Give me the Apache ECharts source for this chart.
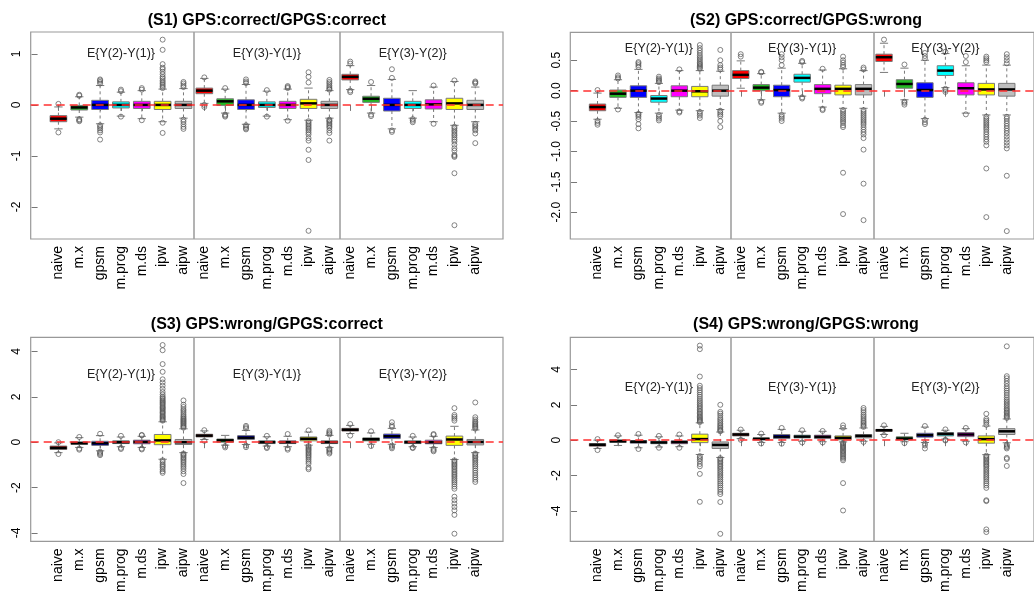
<!DOCTYPE html>
<html><head><meta charset="utf-8">
<script src="https://cdn.jsdelivr.net/npm/echarts@6/dist/echarts.min.js"></script>
<style>html,body{margin:0;padding:0;background:#fff}#c{width:1034px;height:595px}</style>
</head><body><div id="c"></div>
<script>
// ---------- data ----------
const methods = ['naive','m.x','gpsm','m.prog','m.ds','ipw','aipw'];
const groupLabels = ['E{Y(2)-Y(1)}','E{Y(3)-Y(1)}','E{Y(3)-Y(2)}'];
const panelTitles = ['(S1) GPS:correct/GPGS:correct','(S2) GPS:correct/GPGS:wrong','(S3) GPS:wrong/GPGS:correct','(S4) GPS:wrong/GPGS:wrong'];
const boxColors = ['#ff0000','#22bb22','#0000ff','#00ffff','#ff00ff','#ffff00','#bebebe'];

// [lower whisker, Q1, median, Q3, upper whisker]
const s1Stats = [
 [-0.47,-0.33,-0.27,-0.21,-0.04],[-0.24,-0.10,-0.05,-0.01,0.16],[-0.37,-0.09,0.00,0.09,0.38],[-0.22,-0.06,0.00,0.06,0.25],[-0.27,-0.07,0.00,0.07,0.28],[-0.33,-0.09,0.00,0.07,0.31],[-0.26,-0.07,0.00,0.07,0.32],
 [0.03,0.22,0.28,0.33,0.52],[-0.16,-0.01,0.07,0.12,0.31],[-0.38,-0.09,0.00,0.10,0.40],[-0.22,-0.05,0.00,0.06,0.27],[-0.29,-0.07,0.00,0.07,0.31],[-0.30,-0.07,0.03,0.11,0.33],[-0.26,-0.07,0.00,0.07,0.28],
 [0.30,0.49,0.55,0.60,0.77],[-0.16,0.05,0.12,0.17,0.38],[-0.47,-0.12,0.00,0.13,0.50],[-0.26,-0.07,0.00,0.07,0.28],[-0.33,-0.08,0.01,0.10,0.35],[-0.40,-0.09,0.03,0.13,0.46],[-0.33,-0.09,0.00,0.09,0.35]
];
const s1Outliers = [
 [0.02,-0.54],[0.18,0.20,-0.28,-0.30,-0.32],[0.42,0.45,0.48,0.50,-0.40,-0.43,-0.46,-0.50,-0.54,-0.68],[0.27,0.30,-0.23],[0.30,0.33,-0.30],
 [0.33,0.36,0.39,0.42,0.45,0.48,0.52,0.55,0.60,0.65,0.70,0.73,0.80,1.08,1.28,-0.35,-0.55],[0.35,0.38,0.42,0.45,-0.29,-0.33,-0.38,-0.43,-0.47],
 [0.54,0.00,-0.04],[0.33,-0.19,-0.21,-0.23],[0.43,0.46,0.50,-0.40,-0.43,-0.46,-0.48],[0.29,-0.23],[0.33,0.35,0.37,-0.31],
 [0.44,0.55,0.64,-0.32,-0.35,-0.38,-0.41,-0.44,-0.47,-0.50,-0.54,-0.58,-0.65,-0.70,-0.88,-1.08,-2.47],
 [0.30,0.32,0.35,0.38,0.42,0.45,0.49,-0.29,-0.31,-0.33,-0.36,-0.39,-0.42,-0.45,-0.50,-0.55,-0.70],
 [0.81,0.85,0.28,0.25],[0.45,-0.19,-0.22],[0.53,0.70,-0.50,-0.53],[-0.28,-0.31,-0.34],[0.38,-0.37],
 [0.48,-0.43,-0.46,-0.50,-0.53,-0.57,-0.60,-0.64,-0.68,-0.72,-0.78,-0.85,-0.90,-0.98,-1.00,-1.02,-1.34,-2.36],
 [0.42,0.44,0.46,-0.37,-0.40,-0.43,-0.47,-0.50,-0.56,-0.75]
];

const s2Stats = [
 [-0.47,-0.33,-0.27,-0.22,-0.04],[-0.29,-0.11,-0.05,0.01,0.18],[-0.36,-0.11,0.00,0.08,0.35],[-0.37,-0.19,-0.13,-0.08,0.12],[-0.32,-0.10,0.00,0.08,0.33],[-0.33,-0.10,-0.01,0.07,0.33],[-0.31,-0.09,0.00,0.09,0.32],
 [0.04,0.20,0.26,0.33,0.49],[-0.15,0.00,0.05,0.10,0.28],[-0.37,-0.10,0.01,0.09,0.37],[-0.09,0.14,0.21,0.27,0.45],[-0.27,-0.05,0.03,0.10,0.34],[-0.29,-0.07,0.03,0.09,0.36],[-0.29,-0.07,0.03,0.10,0.33],
 [0.30,0.48,0.55,0.60,0.78],[-0.15,0.04,0.11,0.18,0.37],[-0.46,-0.11,0.01,0.13,0.50],[0.05,0.25,0.33,0.41,0.61],[-0.37,-0.07,0.04,0.13,0.41],[-0.40,-0.07,0.02,0.12,0.42],[-0.40,-0.09,0.02,0.12,0.42]
];
const s2Outliers = [
 [0.01,-0.50,-0.53,-0.56],[0.20,0.22,0.25,-0.31],[0.39,0.42,0.45,0.47,-0.38,-0.40,-0.43,-0.47,-0.55,-0.62],[0.14,0.16,0.18,0.20,0.23,-0.40,-0.43,-0.46,-0.49],[0.35,-0.34,-0.36],
 [0.36,0.38,0.40,0.42,0.44,0.46,0.49,0.52,0.55,0.58,0.62,0.66,0.70,0.75,-0.35,-0.38,-0.41,-0.45],[0.35,0.38,0.42,0.50,0.67,-0.33,-0.36,-0.39,-0.42,-0.50,-0.60],
 [0.56,0.60],[0.30,0.31,-0.18,-0.20],[0.42,0.50,0.55,0.60,-0.40,-0.43,-0.46,-0.50],[0.47,0.49,-0.11,-0.13],[0.36,-0.30,-0.32],
 [0.39,0.42,0.46,0.50,0.56,-0.32,-0.35,-0.38,-0.41,-0.44,-0.47,-0.50,-0.53,-0.57,-0.60,-1.35,-2.03],
 [0.35,0.38,-0.32,-0.35,-0.38,-0.41,-0.44,-0.47,-0.50,-0.53,-0.56,-0.60,-0.64,-0.68,-0.72,-0.78,-0.97,-1.53,-2.13],
 [0.84],[0.43,-0.18,-0.20,-0.23],[0.53,0.57,0.62,-0.48,-0.52,-0.55],[0.64,0.03,0.01,-0.02],[0.47,0.57,-0.39],
 [0.47,0.50,0.53,0.56,-0.43,-0.46,-0.49,-0.52,-0.55,-0.58,-0.61,-0.64,-0.68,-0.72,-0.76,-0.80,-0.84,-0.90,-1.28,-2.08],
 [0.45,0.50,0.55,0.60,-0.43,-0.46,-0.50,-0.54,-0.58,-0.62,-0.66,-0.70,-0.75,-0.80,-0.85,-0.90,-0.95,-1.40,-2.31]
];

const s3Stats = [
 [-0.46,-0.32,-0.25,-0.17,-0.03],[-0.23,-0.10,-0.04,0.01,0.20],[-0.38,-0.14,-0.05,0.04,0.29],[-0.20,-0.06,0.00,0.06,0.23],[-0.23,-0.07,0.01,0.09,0.26],[-0.75,-0.11,0.08,0.34,0.90],[-0.46,-0.10,0.00,0.12,0.59],
 [0.12,0.23,0.29,0.35,0.50],[-0.13,0.00,0.08,0.14,0.30],[-0.10,0.12,0.20,0.29,0.52],[-0.17,-0.06,0.00,0.06,0.24],[-0.20,-0.06,0.00,0.06,0.26],[-0.13,0.06,0.15,0.23,0.45],[-0.23,-0.06,0.00,0.06,0.30],
 [0.38,0.49,0.55,0.61,0.74],[-0.09,0.06,0.13,0.19,0.41],[-0.09,0.16,0.26,0.36,0.61],[-0.20,-0.06,0.00,0.06,0.23],[-0.23,-0.07,0.00,0.09,0.26],[-0.76,-0.14,0.12,0.27,0.70],[-0.46,-0.12,0.01,0.12,0.54]
];
const s3Outliers = [
 [0.00,-0.52],[0.23,-0.28,-0.33],[0.37,-0.42,-0.47,-0.52,-0.57],[0.28,-0.25,-0.30],[0.30,0.32,-0.28,-0.32],
 [0.95,0.99,1.04,1.09,1.13,1.18,1.24,1.29,1.33,1.38,1.44,1.49,1.53,1.58,1.64,1.69,1.74,1.79,1.84,1.9,1.95,2.01,2.1,2.21,2.35,2.49,2.63,2.77,3.1,3.44,4.05,4.28,-0.80,-0.88,-0.97,-1.04,-1.1,-1.19,-1.28,-1.35],
 [0.64,0.68,0.72,0.77,0.82,0.86,0.91,0.95,1.0,1.04,1.1,1.15,1.22,1.3,1.38,1.45,1.55,1.65,1.84,-0.50,-0.55,-0.60,-0.66,-0.72,-0.78,-0.85,-0.92,-1.0,-1.08,-1.17,-1.28,-1.4,-1.8],
 [0.53,0.06],[-0.17,-0.23],[0.60,0.66,0.72,-0.15,-0.22],[0.28,-0.21,-0.26],[0.36,-0.27,-0.33],
 [0.52,-0.17,-0.22,-0.28,-0.33,-0.38,-0.44,-0.50,-0.56,-0.62,-0.69,-0.77,-0.86,-0.95,-1.12,-1.19],
 [0.34,0.39,0.44,0.50,-0.28,-0.33,-0.38,-0.44,-0.50],
 [0.80,0.29],[0.48,-0.17],[0.67,0.74,0.88,-0.15,-0.21,-0.27],[0.28,-0.23,-0.26],[0.32,0.36,-0.29,-0.35,-0.40],
 [0.95,1.04,1.12,1.2,1.5,-0.80,-0.86,-0.92,-0.98,-1.04,-1.1,-1.17,-1.24,-1.31,-1.38,-1.45,-1.52,-1.6,-1.68,-1.76,-1.85,-1.95,-2.05,-2.4,-2.55,-2.7,-2.85,-3.0,-3.2,-4.03],
 [0.60,0.65,0.70,0.75,0.80,0.86,0.92,1.0,1.1,1.75,-0.50,-0.56,-0.62,-0.68,-0.75,-0.82,-0.90,-0.98,-1.06,-1.15,-1.25,-1.35,-1.45,-1.55,-1.65,-1.75]
];

const s4Stats = [
 [-0.47,-0.34,-0.26,-0.19,0.00],[-0.30,-0.13,-0.06,0.02,0.24],[-0.43,-0.17,-0.09,-0.02,0.28],[-0.39,-0.20,-0.13,-0.06,0.19],[-0.37,-0.20,-0.11,-0.04,0.24],[-0.81,-0.14,0.06,0.34,0.98],[-0.98,-0.47,-0.27,-0.10,0.46],
 [0.09,0.24,0.32,0.39,0.56],[-0.13,0.02,0.07,0.13,0.32],[-0.13,0.09,0.20,0.32,0.61],[-0.06,0.13,0.20,0.28,0.50],[-0.09,0.09,0.19,0.28,0.50],[-0.10,0.02,0.13,0.24,0.65],[-0.06,0.13,0.24,0.32,0.69],
 [0.32,0.50,0.56,0.61,0.78],[-0.09,0.02,0.09,0.19,0.39],[-0.13,0.17,0.28,0.39,0.74],[0.06,0.24,0.35,0.43,0.56],[-0.06,0.20,0.32,0.43,0.65],[-0.82,-0.17,0.06,0.24,0.80],[-0.15,0.32,0.50,0.65,1.20]
];
const s4Outliers = [
 [0.06,-0.56],[0.28],[0.35,-0.50],[0.24,-0.43],[0.32,-0.43],
 [1.02,1.08,1.14,1.2,1.27,1.34,1.42,1.5,1.58,1.66,1.75,1.84,1.93,2.02,2.12,2.22,2.33,2.45,2.57,2.7,2.82,2.95,3.08,3.6,5.15,5.35,-0.9,-1.0,-1.08,-1.2,-1.35,-1.48,-1.91,-3.49],
 [0.5,0.56,0.62,0.7,0.78,0.86,0.95,1.05,1.15,1.25,1.38,1.5,1.6,2.0,-1.02,-1.1,-1.18,-1.26,-1.35,-1.44,-1.53,-1.62,-1.72,-1.82,-1.92,-2.02,-2.12,-2.23,-2.34,-2.45,-2.56,-2.68,-2.8,-2.93,-3.05,-3.5,-5.3],
 [0.60,0.02],[0.37,-0.19],[0.69,-0.20],[0.56,-0.13],[0.52,-0.13],
 [0.70,0.84,-0.15,-0.21,-0.27,-0.33,-0.39,-0.45,-0.52,-0.59,-0.66,-0.73,-0.81,-0.89,-0.97,-1.05,-1.14,-2.43,-3.98],
 [0.75,0.82,0.9,0.98,1.06,1.15,1.25,1.35,1.45,1.58,1.7,1.82,-0.10],
 [0.84,0.28],[-0.17],[0.80,-0.19,-0.30,-0.47],[0.61,0.02,-0.02],[0.69,-0.13],
 [0.87,1.0,1.1,1.2,1.49,-0.88,-0.95,-1.02,-1.1,-1.18,-1.26,-1.34,-1.42,-1.5,-1.6,-1.7,-1.8,-1.9,-2.0,-2.1,-2.2,-2.32,-2.44,-2.56,-2.7,-3.4,-3.45,-5.05,-5.2],
 [1.26,1.33,1.4,1.48,1.56,1.64,1.72,1.8,1.9,2.0,2.1,2.2,2.3,2.42,2.55,2.68,2.8,2.92,3.05,3.2,3.35,3.5,3.62,5.31,-0.26,-0.33,-0.40,-0.47,-1.0,-1.07,-1.46]
];

const s1Ticks = [-2,-1,0,1];
const s2Ticks = [-2,-1.5,-1,-0.5,0,0.5];
const s3Ticks = [-4,-2,0,2,4];
const s4Ticks = [-4,-2,0,2,4];

// ---------- layout ----------
const FONT = '"Liberation Sans", Arial, sans-serif';
const panels = [
 {stats:s1Stats, out:s1Outliers, ticks:s1Ticks, dec:0, left:30.7, top:32, width:472.3, height:207, yMin:-2.63, yMax:1.43, labelY:1.0, titleY:20.5},
 {stats:s2Stats, out:s2Outliers, ticks:s2Ticks, dec:1, left:570.3, top:32.3, width:471.4, height:206.7, yMin:-2.44, yMax:0.96, labelY:0.7, titleY:20.5},
 {stats:s3Stats, out:s3Outliers, ticks:s3Ticks, dec:0, left:30.7, top:337.3, width:472.3, height:206.7, yMin:-4.37, yMax:4.62, labelY:3.0, titleY:325},
 {stats:s4Stats, out:s4Outliers, ticks:s4Ticks, dec:0, left:570.3, top:337.3, width:471.4, height:206.7, yMin:-5.73, yMax:5.82, labelY:3.0, titleY:325}
];

const categories = [];
groupLabels.forEach(() => methods.forEach(m => categories.push(m)));
const positions = categories.map((c, i) => i + 1);
const groupCenters = [4, 11, 18];

function renderBox(params, api) {
  const x = api.value(0);
  const lo = api.value(1), q1 = api.value(2), med = api.value(3), q3 = api.value(4), hi = api.value(5);
  const color = boxColors[api.value(6)];
  const w = api.size([0.8, 0])[0];
  const pLo = api.coord([x, lo]), pQ1 = api.coord([x, q1]), pMd = api.coord([x, med]), pQ3 = api.coord([x, q3]), pHi = api.coord([x, hi]);
  const cx = pMd[0];
  const grey = '#7a7a7a';
  const dash = {stroke: grey, lineWidth: 1, lineDash: [3, 3]};
  const solid = {stroke: grey, lineWidth: 1};
  return {type: 'group', children: [
    {type: 'line', shape: {x1: cx, y1: pQ3[1], x2: cx, y2: pHi[1]}, style: dash},
    {type: 'line', shape: {x1: cx, y1: pQ1[1], x2: cx, y2: pLo[1]}, style: dash},
    {type: 'line', shape: {x1: cx - w / 4, y1: pHi[1], x2: cx + w / 4, y2: pHi[1]}, style: solid},
    {type: 'line', shape: {x1: cx - w / 4, y1: pLo[1], x2: cx + w / 4, y2: pLo[1]}, style: solid},
    {type: 'rect', shape: {x: cx - w / 2, y: pQ3[1], width: w, height: pQ1[1] - pQ3[1]}, style: {fill: color, stroke: grey, lineWidth: 1}},
    {type: 'line', shape: {x1: cx - w / 2, y1: pMd[1], x2: cx + w / 2, y2: pMd[1]}, style: {stroke: '#000', lineWidth: 2.5}}
  ]};
}

function renderLabel(params, api) {
  const p = api.coord([api.value(0), api.value(1)]);
  return {type: 'text', x: p[0], y: p[1], style: {text: groupLabels[params.dataIndex], fontSize: 12.5, fontFamily: FONT, fill: '#222', align: 'center', verticalAlign: 'middle'}};
}

const option = {animation: false, backgroundColor: '#fff', grid: [], xAxis: [], yAxis: [], series: [], graphic: []};

panels.forEach((p, i) => {
  option.grid.push({left: p.left, top: p.top, width: p.width, height: p.height, show: true, borderColor: '#999', borderWidth: 1.2, containLabel: false});
  option.xAxis.push({
    type: 'value', gridIndex: i, min: -0.33, max: 22.33,
    axisLine: {show: false}, splitLine: {show: false},
    axisTick: {show: true, customValues: positions, length: 6, lineStyle: {color: '#777'}},
    axisLabel: {show: true, customValues: positions, rotate: 90, margin: 7, fontSize: 14, color: '#000', fontFamily: FONT,
      formatter: v => categories[Math.round(v) - 1] || ''}
  });
  option.yAxis.push({
    type: 'value', gridIndex: i, min: p.yMin, max: p.yMax,
    axisLine: {show: false}, splitLine: {show: false},
    axisTick: {show: true, customValues: p.ticks, length: 6, lineStyle: {color: '#777'}},
    axisLabel: {show: true, customValues: p.ticks, rotate: 90, margin: 8, fontSize: 12, color: '#000', fontFamily: FONT,
      formatter: v => p.dec ? Number(v).toFixed(p.dec) : String(Math.round(v))}
  });
  const rows = p.stats.map((s, k) => [positions[k], s[0], s[1], s[2], s[3], s[4], k % methods.length]);
  option.series.push({type: 'custom', xAxisIndex: i, yAxisIndex: i, renderItem: renderBox, data: rows,
    encode: {x: 0, y: [1, 2, 3, 4, 5]}, z: 2, silent: true});
  const pts = [];
  p.out.forEach((list, k) => list.forEach(v => pts.push([positions[k], v])));
  option.series.push({type: 'scatter', xAxisIndex: i, yAxisIndex: i, data: pts, symbol: 'circle', symbolSize: 5, z: 3, silent: true,
    itemStyle: {color: 'rgba(0,0,0,0)', borderColor: '#555', borderWidth: 0.9},
    markLine: {silent: true, symbol: 'none', label: {show: false}, animation: false,
      data: [
        {xAxis: 7.5, lineStyle: {color: '#a0a0a0', type: 'solid', width: 1.6}},
        {xAxis: 14.5, lineStyle: {color: '#a0a0a0', type: 'solid', width: 1.6}},
        {yAxis: 0, lineStyle: {color: '#ff3030', type: [8, 5], width: 1.5}}
      ]}});
  option.series.push({type: 'custom', xAxisIndex: i, yAxisIndex: i, renderItem: renderLabel, z: 4, silent: true,
    data: groupCenters.map(c => [c, p.labelY])});
  option.graphic.push({type: 'text', x: p.left + p.width / 2, y: p.titleY,
    style: {text: panelTitles[i], font: 'bold 16px ' + FONT, fill: '#000', align: 'center', verticalAlign: 'middle'}});
});

const chart = echarts.init(document.getElementById('c'), null, {renderer: 'canvas'});
chart.setOption(option);
</script>
</body></html>
